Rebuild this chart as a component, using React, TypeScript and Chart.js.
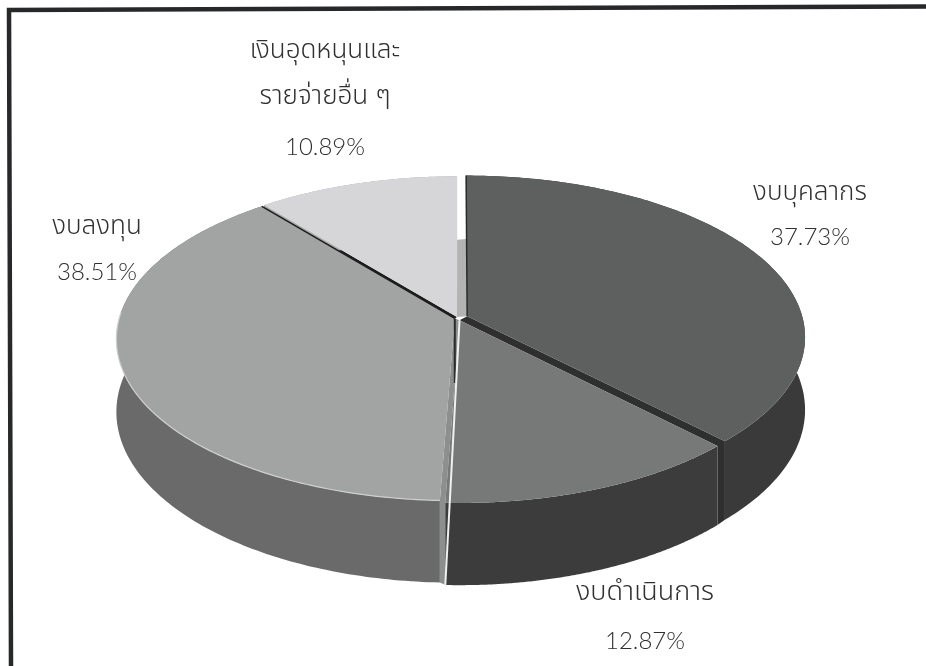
import React, { useEffect, useRef } from "react";
import { Chart, registerables } from "chart.js";

Chart.register(...registerables);

const categories = ["งบบุคลากร", "งบดำเนินการ", "งบลงทุน", "เงินอุดหนุนและรายจ่ายอื่น ๆ"];
const shares = [37.73, 12.87, 38.51, 10.89];
const faceColors = ["#5e5f5f", "#777979", "#a2a3a3", "#d6d6d9"];
const sideColors = ["#3a3a3a", "#3c3c3c", "#6a6a6a", "#a9a9a9"];
const gapColors = ["#2f2f2f", "#8d8f8f", "#1e1e1e", "#b3b3b3"];
const gapReachesRim = [true, true, true, false];
const sliceOffsets = [10, 5, 3, 2];
const paintOrder = [3, 0, 2, 1];

const labelLines = [
  ["งบบุคลากร", "37.73%"],
  ["งบดำเนินการ", "12.87%"],
  ["งบลงทุน", "38.51%"],
  ["เงินอุดหนุนและ", "รายจ่ายอื่น ๆ", "10.89%"],
];
const labelAnchors = [
  [810, [192, 237]],
  [645, [591, 641]],
  [97, [226, 272]],
  [325, [50, 96, 147]],
] as [number, number[]][];

// View of the tilted disc (perspective camera)
const VIEW = { x0: 457.7, r: 335.5, a: 118.5, b: 318, c: -0.127, depth: 71.6 };

function project(u: number, v: number, z: number): [number, number] {
  const w = 1 + VIEW.c * v;
  return [VIEW.x0 + (VIEW.r * u) / w, (VIEW.a * v + VIEW.b + z * VIEW.depth) / w];
}

const pie3d = {
  id: "pie3d",
  beforeDraw(chart: any) {
    const { ctx, width, height } = chart;
    ctx.save();
    ctx.fillStyle = "#ffffff";
    ctx.fillRect(0, 0, width, height);
    ctx.strokeStyle = "#26282a";
    ctx.lineWidth = 4.5;
    ctx.beginPath();
    ctx.moveTo(width, 6.5);
    ctx.lineTo(9, 10);
    ctx.lineTo(11, height);
    ctx.stroke();
    ctx.restore();
  },
  beforeDatasetsDraw(chart: any) {
    const { ctx } = chart;
    const arcs = chart.getDatasetMeta(0).data;
    const geo = arcs.map((arc: any) => {
      const { startAngle, endAngle, outerRadius, options } = arc;
      const mid = (startAngle + endAngle) / 2;
      const off = options.offset / outerRadius;
      const ou = Math.cos(mid) * off;
      const ov = Math.sin(mid) * off;
      const P = (ang: number, rad: number, z: number) =>
        project(ou + Math.cos(ang) * rad, ov + Math.sin(ang) * rad, z);
      return { startAngle, endAngle, P };
    });
    const poly = (pts: [number, number][], fill: string) => {
      ctx.beginPath();
      pts.forEach((p, i) => (i ? ctx.lineTo(p[0], p[1]) : ctx.moveTo(p[0], p[1])));
      ctx.closePath();
      ctx.fillStyle = fill;
      ctx.fill();
    };
    const rim = (g: any, z: number) => {
      const n = 160;
      const out: [number, number][] = [];
      for (let i = 0; i <= n; i++) {
        out.push(g.P(g.startAngle + ((g.endAngle - g.startAngle) * i) / n, 1, z));
      }
      return out;
    };
    const edge = (p: [number, number], q: [number, number], color: string, lw: number) => {
      ctx.beginPath();
      ctx.moveTo(p[0], p[1]);
      ctx.lineTo(q[0], q[1]);
      ctx.strokeStyle = color;
      ctx.lineWidth = lw;
      ctx.stroke();
    };
    ctx.save();
    // Gaps between exploded slices show the inner walls
    geo.forEach((g: any, i: number) => {
      const h = geo[(i + 1) % geo.length];
      const a = g.endAngle;
      const b = h.startAngle;
      const pts: [number, number][] = [g.P(a, 1, 1)];
      if (gapReachesRim[i]) pts.push(g.P(a, 1, 0));
      pts.push(g.P(a, 0, 0), h.P(b, 0, 0));
      if (gapReachesRim[i]) pts.push(h.P(b, 1, 0));
      pts.push(h.P(b, 1, 1));
      poly(pts, gapColors[i]);
    });
    paintOrder.forEach((i) => {
      const g = geo[i];
      const top = rim(g, 0);
      const low = rim(g, 1).reverse();
      poly([...top, ...low], sideColors[i]);
      poly([g.P(g.startAngle, 0, 0), ...top], faceColors[i]);
    });
    // Edge lines
    const [dark, medium, light] = geo;
    edge(dark.P(dark.startAngle, 1, 0), dark.P(dark.startAngle, 0, 0), "#2a2a2a", 1.5);
    edge(light.P(light.endAngle, 1, 0), light.P(light.endAngle, 0, 0), "#1c1c1c", 1.5);
    edge(light.P(light.endAngle, 0, 0), light.P(light.endAngle, 0, 0.9), "#2a2a2a", 2);
    edge(medium.P(medium.endAngle, 0, 0), medium.P(medium.endAngle, 1, 1), "#f0f0f0", 2);
    // Highlight along the front rim of the lighter slice
    ctx.beginPath();
    let started = false;
    for (let i = 0; i <= 160; i++) {
      const ang = light.startAngle + ((light.endAngle - light.startAngle) * i) / 160;
      if (Math.sin(ang) < -0.05) continue;
      const p = light.P(ang, 1, 0);
      if (started) ctx.lineTo(p[0], p[1]);
      else ctx.moveTo(p[0], p[1]);
      started = true;
    }
    ctx.strokeStyle = "#cfcfcf";
    ctx.lineWidth = 1.2;
    ctx.stroke();
    ctx.restore();
    return false;
  },
  afterDraw(chart: any) {
    const { ctx } = chart;
    ctx.save();
    ctx.fillStyle = "#303030";
    ctx.textAlign = "center";
    ctx.textBaseline = "middle";
    labelLines.forEach((lines, i) => {
      const [x, ys] = labelAnchors[i];
      lines.forEach((t, j) => {
        const isNumber = t.endsWith("%");
        ctx.font = `300 ${isNumber ? 24 : i === 1 ? 27 : 26}px Lato, 'Noto Sans Thai', 'Noto Sans', sans-serif`;
        ctx.fillText(t, x, ys[j]);
      });
    });
    ctx.restore();
  },
};

export default function App() {
  const ref = useRef<HTMLCanvasElement | null>(null);
  useEffect(() => {
    const chart = new Chart(ref.current as HTMLCanvasElement, {
      type: "pie",
      data: {
        labels: categories,
        datasets: [
          {
            data: shares,
            backgroundColor: faceColors,
            offset: sliceOffsets,
            borderWidth: 0,
          },
        ],
      },
      options: {
        responsive: false,
        animation: false,
        plugins: { legend: { display: false }, tooltip: { enabled: false } },
      },
      plugins: [pie3d],
    } as any);
    return () => chart.destroy();
  }, []);
  return (
    <div style={{ position: "fixed", left: 0, top: 0, width: 926, height: 666 }}>
      <canvas ref={ref} width={926} height={666} style={{ display: "block" }} />
    </div>
  );
}
